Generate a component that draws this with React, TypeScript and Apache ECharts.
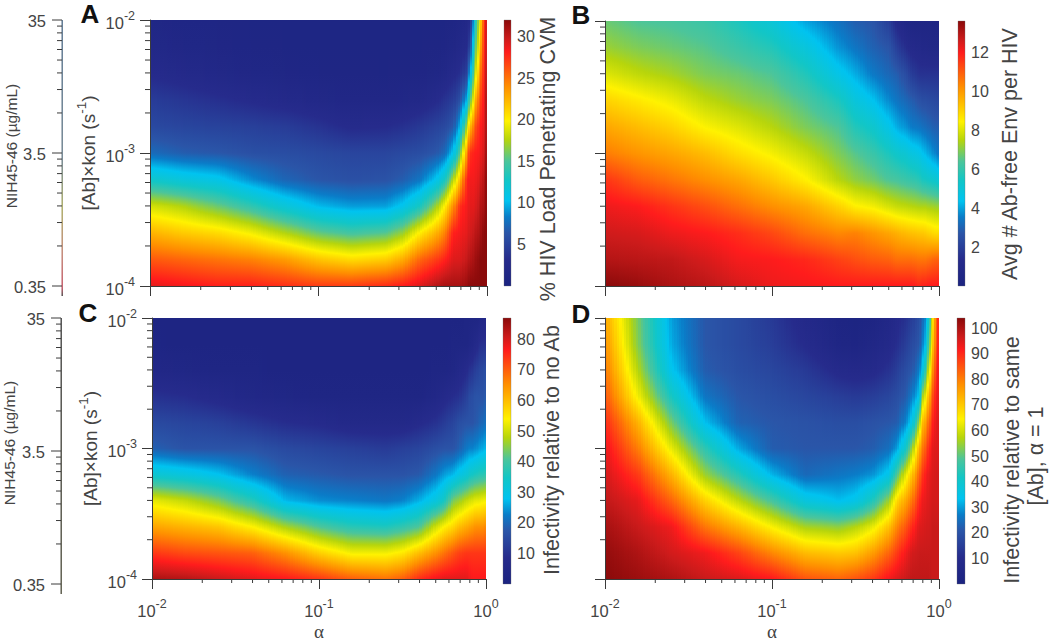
import React, { useEffect, useRef } from "react";
import * as echarts from "echarts";

// alpha positions of the columns (left to right)
const alphaStops = [0.01, 0.0158, 0.0251, 0.0398, 0.0631, 0.1, 0.158, 0.251, 0.316, 0.398, 0.501, 0.562, 0.631, 0.692, 0.759, 0.794, 0.832, 0.871, 0.912, 0.955, 1];
// [Ab]xkon positions of the rows (top to bottom)
const konStops = [1e-2, 6.31e-3, 3.98e-3, 2.51e-3, 1.58e-3, 1e-3, 6.31e-4, 3.98e-4, 2.51e-4, 1.58e-4, 1e-4];

// % HIV load penetrating CVM
const panelA = [
  [1.5, 2, 3, 4.5, 5.5, 7.5, 12.5, 18.5, 22.5, 26, 29],
  [1.2, 1.6, 2.5, 4, 5.2, 6.8, 11.5, 17.5, 21.5, 25.5, 28.5],
  [1.2, 1.4, 2, 3.5, 5, 6.5, 10.8, 15.8, 20.8, 25, 28],
  [1, 1.2, 1.6, 3, 4.8, 6, 8.8, 14, 19.5, 24.5, 28],
  [1, 1, 1.4, 2.5, 4.5, 5.8, 7.2, 11.8, 17.5, 23.5, 27.5],
  [1, 1, 1.2, 2, 3.8, 5.5, 6.4, 10, 15.6, 21.8, 27],
  [1, 1, 1.1, 1.6, 3, 5.2, 6, 9.2, 14.6, 20.8, 27],
  [1, 1, 1, 1.6, 3.2, 5.2, 6.2, 9.3, 15.2, 21.4, 27.6],
  [1, 1, 1.1, 1.8, 3.6, 5.5, 6.8, 10.6, 16.8, 22.8, 28.2],
  [1, 1, 1.3, 2.2, 4.2, 5.8, 8, 13, 20, 25.5, 29.2],
  [1, 1.1, 1.5, 3, 5, 6.5, 10.5, 17, 22.5, 27, 30.5],
  [1, 1.3, 2, 3.8, 5.5, 7.5, 13, 20, 24.5, 28, 31],
  [1.2, 1.6, 2.8, 4.5, 6.5, 10.5, 17.5, 24, 28, 29.2, 31],
  [1.5, 2.2, 3.5, 6, 10, 15.5, 22, 27.5, 28.5, 29.3, 31],
  [2, 3, 5, 10, 17.5, 24, 28, 28.5, 29, 30, 31.5],
  [3, 5, 9.5, 15, 22, 27.5, 28.5, 29, 29.5, 30.5, 32],
  [10, 13, 16, 20, 25, 28, 28.5, 29, 30, 31, 32],
  [15, 17, 20, 24, 27, 28.2, 28.8, 29.5, 30.5, 31.5, 32],
  [20, 22, 24.5, 26.5, 28, 28.6, 29.5, 30.5, 31, 32, 32],
  [27, 27.5, 28, 28.5, 29, 29.5, 30.5, 31, 32, 32, 32],
  [30, 30, 30.5, 31, 31, 31.5, 32, 32, 32, 32, 32],
];

// Avg # Ab-free Env per HIV
const panelB = [
  [6.7, 7.2, 8.0, 9.0, 9.8, 10.5, 11.6, 12.2, 12.6, 13.0, 13.6],
  [6.4, 6.9, 7.6, 8.6, 9.4, 10.1, 11, 12, 12.5, 12.9, 13.4],
  [6.3, 6.7, 7.3, 8.2, 9, 9.8, 10.6, 11.6, 12.2, 12.8, 13.1],
  [6.1, 6.5, 6.9, 7.6, 8.4, 9.4, 10.2, 11.2, 12, 12.5, 12.9],
  [5.6, 6.1, 6.7, 7.2, 8, 8.8, 9.8, 10.7, 11.7, 12.1, 12.5],
  [5.0, 5.7, 6.4, 6.9, 7.5, 8.3, 9.2, 10.2, 11.3, 12, 12.2],
  [4.0, 4.9, 5.7, 6.4, 6.9, 7.7, 8.5, 9.8, 10.7, 11.8, 12.1],
  [3.3, 3.8, 4.6, 5.6, 6.4, 6.9, 7.5, 9.0, 10.3, 11.4, 12],
  [2.9, 3.4, 4.1, 4.9, 5.7, 6.5, 7.1, 8.5, 10.4, 11.2, 12],
  [2.7, 3, 3.5, 4.4, 5.3, 6.1, 6.8, 8.3, 10.1, 11, 12],
  [2, 2.7, 3.1, 3.7, 4.6, 5.6, 6.4, 7.9, 9.8, 10.9, 12],
  [1.1, 2, 2.9, 3.4, 4.1, 5.3, 6.3, 7.7, 9.6, 10.7, 12],
  [0.7, 1.4, 2.4, 3.1, 3.8, 5.1, 6.1, 7.6, 9.4, 10.7, 12],
  [0.5, 1.1, 1.9, 2.9, 3.5, 4.8, 6.0, 7.5, 9.3, 10.7, 12],
  [0.5, 1, 1.6, 2.6, 3.4, 4.6, 5.8, 7.4, 9.2, 10.6, 11.8],
  [0.5, 0.9, 1.6, 2.5, 3.3, 4.4, 5.6, 7.4, 9.2, 10.6, 11.9],
  [0.5, 0.9, 1.6, 2.5, 3.2, 4.2, 5.5, 7.4, 9.1, 10.6, 11.9],
  [0.5, 0.8, 1.6, 2.4, 3.1, 4, 5.4, 7.3, 9, 10.7, 12],
  [0.4, 0.8, 1.6, 2.4, 3, 3.8, 5.3, 7.3, 8.9, 10.8, 12],
  [0.4, 0.8, 1.6, 2.3, 2.9, 3.6, 5.2, 7.2, 8.8, 10.9, 12],
  [0.4, 0.8, 1.6, 2.3, 2.9, 3.4, 5, 7.2, 8.8, 10.9, 12.1],
];

// Infectivity relative to no Ab
const panelC = [
  [2, 3, 5, 10, 15, 19, 33, 52, 63, 74, 84],
  [2, 2, 4, 9, 14, 17, 31, 49, 61, 72, 83],
  [2, 2, 3, 7, 13, 17, 28, 44, 59, 71, 81],
  [2, 2, 3, 5, 11, 17, 23, 37, 54, 70, 79],
  [2, 2, 2, 4, 9, 15, 19, 27, 47, 65, 77],
  [2, 2, 2, 3, 8, 14, 18, 24, 41, 58, 74],
  [2, 2, 2, 3, 6, 13, 17, 23, 37, 53, 70],
  [2, 2, 2, 3, 6, 12, 17, 22, 36, 53, 68],
  [2, 2, 2, 3, 6, 13, 17, 23, 38, 55, 70],
  [2, 2, 2, 3, 8, 14, 18, 26.5, 41, 60, 75],
  [2, 2, 3, 5, 10, 16, 22, 31, 50, 65, 78],
  [2, 2, 3, 7, 12, 17, 25, 35, 54, 68, 79],
  [2, 3, 4, 9, 14, 17, 27, 44, 57, 71, 79],
  [2, 3, 6, 10, 16, 19, 30, 46, 60, 73, 79],
  [3, 3, 8, 13, 17, 22, 32, 49, 62, 74, 79],
  [3, 4, 10, 15, 17, 23, 34, 50, 63, 74, 78],
  [3, 5, 11, 16, 17, 23, 35, 51, 64, 74, 77],
  [3, 7, 13, 17, 18, 24, 36, 52, 65, 74, 77],
  [4, 9, 14, 17, 19, 25, 37, 52, 65, 74, 77],
  [5, 10, 15, 17, 20, 26, 37, 53, 65, 74, 77],
  [6, 10, 16, 18, 21, 27, 38, 53, 66, 74, 77],
];

// Infectivity relative to same [Ab], alpha = 1
const panelD = [
  [75, 78, 81, 85, 90, 94, 96, 98, 101, 103, 104],
  [52, 53, 57, 63, 73, 80, 88, 94, 97, 100, 102],
  [30, 31, 34, 42, 52, 62, 73, 83, 93, 96, 100],
  [21, 21, 22, 26, 33, 45, 55, 69, 81, 93, 97],
  [18, 18, 19, 21, 23, 31, 44, 58, 73, 87, 95],
  [14, 15, 17, 19, 21, 22, 32, 48, 64, 79, 92],
  [8, 10, 14, 17, 20, 21, 24, 37, 56, 72, 85],
  [3, 4, 9, 15, 19, 21, 26, 33, 54, 70, 83],
  [2, 3, 8, 14, 19, 21, 27, 35, 57, 71, 85],
  [3, 5, 9, 15, 20, 22, 29, 43, 62, 76, 88],
  [6, 8, 12, 17, 21, 25, 35, 55, 71, 83, 93],
  [9, 11, 15, 19, 22, 30, 49, 68, 79, 88, 95],
  [12, 15, 19, 22, 28, 42, 62, 75, 85, 93, 97],
  [15, 18, 21, 27, 36, 55, 71, 81, 90, 96, 98],
  [19, 21, 27, 34, 55, 73, 83, 90, 95, 97, 98],
  [23, 26, 34, 55, 71, 80, 88, 93, 95, 97, 98],
  [29, 34, 47, 63, 76, 85, 92, 94, 96, 97, 98],
  [42, 49, 60, 73, 83, 90, 94, 95, 96, 97, 98],
  [62, 67, 75, 84, 90, 94, 95, 96, 97, 97, 97],
  [81, 83, 88, 92, 94, 95, 96, 96, 97, 97, 97],
  [92, 93, 94, 94, 95, 95, 96, 96, 97, 97, 97],
];

const alphaMinorTicks = [0.02, 0.03, 0.04, 0.05, 0.06, 0.07, 0.08, 0.09, 0.2, 0.3, 0.4, 0.5, 0.6, 0.7, 0.8, 0.9];
const konMinorTicks = [2e-4, 3e-4, 4e-4, 5e-4, 6e-4, 7e-4, 8e-4, 9e-4, 2e-3, 3e-3, 4e-3, 5e-3, 6e-3, 7e-3, 8e-3, 9e-3];
const concMajorTicks = [35, 3.5, 0.35];
const concMinorTicks = [31.5, 28, 24.5, 21, 17.5, 14, 10.5, 7, 3.15, 2.8, 2.45, 2.1, 1.75, 1.4, 1.05, 0.7];

// colour scale: position on the bar, colour
const scaleKnots = [0, 0.1, 0.2, 0.26, 0.32, 0.4, 0.47, 0.55, 0.62, 0.75, 0.88, 0.93, 1];
const scaleColors = ["#1b2380", "#262b8c", "#2a55a8", "#0a7cc8", "#00c3f0", "#12c6c6", "#4cc59a", "#b6d50c", "#fff200", "#ff8f00", "#ff1c1c", "#cc1b1b", "#8a0a0a"];

const SANS = '"Liberation Sans", Arial, sans-serif';
const TEXT = "#444";
const AXIS = "#3a3a3a";

const rgb = (hex: string) => [1, 3, 5].map((i) => parseInt(hex.slice(i, i + 2), 16));

function colorAt(f: number) {
  const v = Math.min(1, Math.max(0, f));
  for (let i = 1; i < scaleKnots.length; i++) {
    if (v <= scaleKnots[i]) {
      const t = (v - scaleKnots[i - 1]) / (scaleKnots[i] - scaleKnots[i - 1]);
      const a = rgb(scaleColors[i - 1]);
      const b = rgb(scaleColors[i]);
      return `rgb(${a.map((c, k) => Math.round(c + (b[k] - c) * t)).join(",")})`;
    }
  }
  return scaleColors[scaleColors.length - 1];
}

// Gradient stops along a column: the read values, plus the colour scale's own knots wherever a span crosses one.
function columnStops(vals: number[], ys: number[], vmax: number) {
  const top = ys[0];
  const h = ys[ys.length - 1] - top;
  const stops: { offset: number; color: string }[] = [];
  for (let j = 0; j < vals.length; j++) {
    const fa = vals[j] / vmax;
    stops.push({ offset: (ys[j] - top) / h, color: colorAt(fa) });
    if (j === vals.length - 1) break;
    const fb = vals[j + 1] / vmax;
    const crossings: number[] = [];
    for (const k of scaleKnots) {
      if ((k > fa && k < fb) || (k < fa && k > fb)) crossings.push((k - fa) / (fb - fa));
    }
    crossings.sort((p, q) => p - q);
    for (const t of crossings) {
      stops.push({ offset: (ys[j] + (ys[j + 1] - ys[j]) * t - top) / h, color: colorAt(fa + (fb - fa) * t) });
    }
  }
  return stops;
}

const shadedRender = (values: number[][], vmax: number) => (_p: any, api: any) => {
  const i = api.value(4);
  const [x0, yTop] = api.coord([alphaStops[i], konStops[0]]);
  const [x1, yBot] = api.coord([alphaStops[i + 1], konStops[konStops.length - 1]]);
  const ys = konStops.map((k) => api.coord([alphaStops[i], k])[1]);
  const n = Math.max(1, Math.ceil((x1 - x0) / 2.5));
  const children: any[] = [];
  for (let s = 0; s < n; s++) {
    const t = (s + 0.5) / n;
    const col = values[i].map((v, r) => v + (values[i + 1][r] - v) * t);
    const sx = Math.round(x0 + ((x1 - x0) * s) / n);
    const ex = Math.round(x0 + ((x1 - x0) * (s + 1)) / n);
    const last = s === n - 1 && i === alphaStops.length - 2;
    children.push({
      type: "rect",
      shape: { x: sx, y: yTop, width: ex - sx + (last ? 0 : 1), height: yBot - yTop },
      style: { fill: new echarts.graphic.LinearGradient(0, 0, 0, 1, columnStops(col, ys, vmax)) },
    });
  }
  return { type: "group", children };
};

const tickRender = (dx: number, dy: number) => (_p: any, api: any) => {
  const [x, y] = api.coord([api.value(0), api.value(1)]);
  return { type: "line", shape: { x1: x, y1: y, x2: x + dx, y2: y + dy }, style: { stroke: AXIS, lineWidth: 1 } };
};

const barRender = (_p: any, api: any) => {
  const [x0, y0] = api.coord([0, api.value(0)]);
  const [x1, y1] = api.coord([1, api.value(1)]);
  const stops = scaleKnots.map((k, i) => ({ offset: 1 - k, color: scaleColors[i] })).reverse();
  return {
    type: "rect",
    shape: { x: x0, y: y1, width: x1 - x0, height: y0 - y1 },
    style: { fill: new echarts.graphic.LinearGradient(0, 0, 0, 1, stops), stroke: "rgba(110,110,110,0.55)", lineWidth: 0.6 },
  };
};

const concRender = (lineStops: { offset: number; color: string }[]) => (_p: any, api: any) => {
  const v = api.value(0);
  const kind = api.value(1);
  const [x, y] = api.coord([0, v]);
  if (kind === 2) {
    return {
      type: "rect",
      shape: { x: x - 0.5, y, width: 1.4, height: api.coord([0, 0.35])[1] - y + 10 },
      style: { fill: new echarts.graphic.LinearGradient(0, 0, 0, 1, lineStops) },
    };
  }
  const len = kind === 1 ? 10 : 5;
  const line = { type: "line", shape: { x1: x - len, y1: y, x2: x, y2: y }, style: { stroke: AXIS, lineWidth: 1 } };
  if (kind !== 1) return line;
  return {
    type: "group",
    children: [
      line,
      { type: "text", x: x - 16, y: y + 0.5, style: { text: String(v), align: "right", verticalAlign: "middle", fill: TEXT, font: `16.5px ${SANS}` } },
    ],
  };
};

const powerLabel = (v: number) => `{b|10}{s|${Math.round(Math.log10(v))}}`;
const powerRich = {
  b: { fontSize: 16.5, fontFamily: SANS, color: TEXT, lineHeight: 22, verticalAlign: "bottom" },
  s: { fontSize: 12.5, fontFamily: SANS, color: TEXT, lineHeight: 22, verticalAlign: "top" },
};

type Rect = { left: number; top: number; width: number; height: number };

function buildOption() {
  const grids: any[] = [];
  const xAxes: any[] = [];
  const yAxes: any[] = [];
  const series: any[] = [];

  const addPanel = (box: Rect, values: number[][], vmax: number, showX: boolean, showY: boolean) => {
    const g = grids.length;
    grids.push({ ...box, show: false });
    xAxes.push({
      gridIndex: g,
      type: "log",
      logBase: 10,
      min: 0.01,
      max: 1,
      z: 5,
      splitLine: { show: false },
      minorSplitLine: { show: false },
      axisLine: { show: true, onZero: false, lineStyle: { color: AXIS, width: 1 } },
      axisTick: { show: true, length: 10, lineStyle: { color: AXIS, width: 1 } },
      axisLabel: { show: showX, margin: 18, hideOverlap: false, formatter: powerLabel, rich: powerRich },
      name: showX ? "α" : "",
      nameLocation: "middle",
      nameGap: 43,
      nameTextStyle: { fontFamily: '"Liberation Serif", serif', fontSize: 19, color: TEXT },
    });
    yAxes.push({
      gridIndex: g,
      type: "log",
      logBase: 10,
      min: 1e-4,
      max: 1e-2,
      z: 5,
      splitLine: { show: false },
      minorSplitLine: { show: false },
      axisLine: { show: true, onZero: false, lineStyle: { color: AXIS, width: 1 } },
      axisTick: { show: true, length: 10, lineStyle: { color: AXIS, width: 1 } },
      axisLabel: { show: showY, margin: 15, hideOverlap: false, formatter: powerLabel, rich: powerRich },
      name: showY ? "{t|[Ab]×kon (s}{u|-1}{t|)}" : "",
      nameLocation: "middle",
      nameGap: 52,
      nameRotate: 90,
      nameTextStyle: {
        rich: {
          t: { fontFamily: SANS, fontSize: 19, color: TEXT, lineHeight: 24, verticalAlign: "bottom" },
          u: { fontFamily: SANS, fontSize: 13.5, color: TEXT, lineHeight: 24, verticalAlign: "top" },
        },
      },
    });
    series.push({
      type: "custom",
      xAxisIndex: g,
      yAxisIndex: g,
      silent: true,
      clip: true,
      encode: { x: [0, 2], y: [1, 3] },
      data: alphaStops.slice(0, -1).map((a, i) => [a, konStops[0], alphaStops[i + 1], konStops[konStops.length - 1], i]),
      renderItem: shadedRender(values, vmax),
    });
    series.push({
      type: "custom",
      xAxisIndex: g,
      yAxisIndex: g,
      silent: true,
      encode: { x: 0, y: 1 },
      data: alphaMinorTicks.map((a) => [a, 1e-4]),
      renderItem: tickRender(0, 4),
    });
    series.push({
      type: "custom",
      xAxisIndex: g,
      yAxisIndex: g,
      silent: true,
      encode: { x: 0, y: 1 },
      data: konMinorTicks.map((k) => [0.01, k]),
      renderItem: tickRender(-5, 0),
    });
  };

  const addBar = (box: Rect, vmax: number, interval: number) => {
    const g = grids.length;
    grids.push({ ...box, show: false });
    xAxes.push({ gridIndex: g, type: "value", min: 0, max: 1, show: false });
    yAxes.push({
      gridIndex: g,
      type: "value",
      position: "right",
      min: 0,
      max: vmax,
      interval,
      splitLine: { show: false },
      axisLine: { show: false },
      axisTick: { show: false },
      axisLabel: {
        margin: 6,
        fontFamily: SANS,
        fontSize: 16,
        color: TEXT,
        showMinLabel: false,
        formatter: (v: number) => (v > 0 && Number.isInteger(v / interval) ? String(v) : ""),
      },
    });
    series.push({
      type: "custom",
      xAxisIndex: g,
      yAxisIndex: g,
      silent: true,
      encode: { y: [0, 1] },
      data: [[0, vmax]],
      renderItem: barRender,
    });
  };

  const addConc = (box: Rect, lineStops: { offset: number; color: string }[]) => {
    const g = grids.length;
    grids.push({ ...box, show: false });
    xAxes.push({ gridIndex: g, type: "value", min: 0, max: 1, show: false });
    yAxes.push({ gridIndex: g, type: "log", logBase: 10, min: 0.35, max: 35, show: false });
    series.push({
      type: "custom",
      xAxisIndex: g,
      yAxisIndex: g,
      silent: true,
      encode: { x: 1, y: 0 },
      data: [
        [35, 2],
        ...concMajorTicks.map((v) => [v, 1]),
        ...concMinorTicks.map((v) => [v, 0]),
      ],
      renderItem: concRender(lineStops),
    });
  };

  addPanel({ left: 150, top: 20, width: 337, height: 266 }, panelA, 32, false, true);
  addPanel({ left: 605, top: 21, width: 334, height: 265 }, panelB, 13.6, false, false);
  addPanel({ left: 152, top: 318, width: 334, height: 265 }, panelC, 87, true, true);
  addPanel({ left: 605, top: 318, width: 334, height: 265 }, panelD, 104, true, false);

  addBar({ left: 504, top: 20, width: 7, height: 266 }, 32, 5);
  addBar({ left: 958, top: 21, width: 7, height: 265 }, 13.6, 2);
  addBar({ left: 503, top: 318, width: 8, height: 266 }, 87, 10);
  addBar({ left: 957, top: 318, width: 8, height: 266 }, 104, 10);

  addConc({ left: 62, top: 20, width: 1, height: 266 }, [
    { offset: 0, color: "#54708c" },
    { offset: 0.5, color: "#6b7f8c" },
    { offset: 0.68, color: "#a8a860" },
    { offset: 0.85, color: "#c08070" },
    { offset: 0.97, color: "#c05060" },
    { offset: 1, color: "#444" },
  ]);
  addConc({ left: 61, top: 318, width: 1, height: 266 }, [
    { offset: 0, color: "#444" },
    { offset: 1, color: "#554" },
  ]);

  const vText = (text: string, x: number, y: number, size: number) => ({
    type: "text",
    x,
    y,
    rotation: Math.PI / 2,
    silent: true,
    style: { text, align: "center", verticalAlign: "middle", textAlign: "center", textVerticalAlign: "middle", fill: TEXT, font: `${size}px ${SANS}` },
  });
  const letter = (text: string, x: number, y: number) => ({
    type: "text",
    x,
    y,
    silent: true,
    style: { text, align: "center", verticalAlign: "middle", textAlign: "center", textVerticalAlign: "middle", fill: "#111", font: `bold 26px ${SANS}` },
  });

  return {
    animation: false,
    backgroundColor: "#fff",
    grid: grids,
    xAxis: xAxes,
    yAxis: yAxes,
    series,
    graphic: [
      letter("A", 90, 14),
      letter("B", 581, 15),
      letter("C", 88, 313),
      letter("D", 581, 314),
      vText("NIH45-46 (µg/mL)", 11, 146, 15.5),
      vText("NIH45-46 (µg/mL)", 9, 443, 15.5),
      vText("% HIV Load Penetrating CVM", 548, 159, 21.5),
      vText("Avg # Ab-free Env per HIV", 1010, 154, 21.5),
      vText("Infectivity relative to no Ab", 552, 450, 21.5),
      vText("Infectivity relative to same", 1012, 460, 21.5),
      vText("[Ab], α = 1", 1036, 456, 21.5),
    ],
  };
}

export default function App() {
  const ref = useRef<HTMLDivElement>(null);
  useEffect(() => {
    const chart = echarts.init(ref.current!, undefined, { renderer: "svg" });
    chart.setOption(buildOption() as any);
    return () => chart.dispose();
  }, []);
  return <div ref={ref} style={{ position: "absolute", left: 0, top: 0, width: 1050, height: 642 }} />;
}
